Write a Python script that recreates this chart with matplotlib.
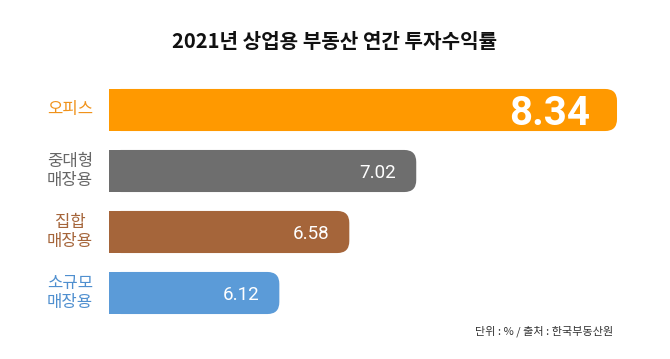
import matplotlib
matplotlib.use('Agg')
import matplotlib.pyplot as plt
from matplotlib.patches import FancyBboxPatch, Rectangle

plt.rcParams['font.family'] = ['Noto Sans CJK KR', 'DejaVu Sans']

TITLE = '2021년 상업용 부동산 연간 투자수익률'
FOOTNOTE = '단위 : % / 출처 : 한국부동산원'
CATEGORIES = ['오피스', '중대형\n매장용', '집합\n매장용', '소규모\n매장용']
VALUES = [8.34, 7.02, 6.58, 6.12]
BAR_COLORS = ['#FF9900', '#6E6E6E', '#A5653A', '#5B9BD8']
LABEL_COLORS = ['#F0921A', '#666666', '#A5653A', '#4F8FCF']
VALUE_SIZES = [29, 13.5, 13.5, 13.5]

BASE = 5.0
PX_PER_UNIT = 152.1   # horizontal pixels per value unit
PX_PER_ROW = 61.0     # vertical pixels per category row
BAR_H = 0.69
RADIUS_PX = 12


def main():
    fig = plt.figure(figsize=(6.7, 3.59), dpi=100)
    fig.patch.set_facecolor('white')
    ax = fig.add_axes([0, 0, 1, 1])
    ax.set_xlim(BASE - 109 / PX_PER_UNIT, BASE + (670 - 109) / PX_PER_UNIT)
    ax.set_ylim((359 - 110) / PX_PER_ROW, -110 / PX_PER_ROW)
    ax.axis('off')

    aspect = PX_PER_UNIT / PX_PER_ROW
    r = RADIUS_PX / PX_PER_UNIT
    for i, (v, c) in enumerate(zip(VALUES, BAR_COLORS)):
        y0 = i - BAR_H / 2
        w = v - BASE
        ax.add_patch(FancyBboxPatch((BASE, y0), w, BAR_H,
                                    boxstyle=f'round,pad=0,rounding_size={r}',
                                    mutation_aspect=aspect,
                                    facecolor=c, edgecolor='none'))
        # square left end
        ax.add_patch(Rectangle((BASE, y0), w / 2, BAR_H,
                               facecolor=c, edgecolor='none'))
        pad = -27 if i == 0 else -20
        ax.annotate(f'{v:.2f}', (v, i), xytext=(pad * 0.72, 0),
                    textcoords='offset points', ha='right', va='center_baseline',
                    color='white', fontsize=VALUE_SIZES[i],
                    fontweight='bold' if i == 0 else 'normal',
                    family=['Roboto', 'DejaVu Sans'])
        ax.annotate(CATEGORIES[i], (BASE, i), xytext=(-16 * 0.72, 0),
                    textcoords='offset points', ha='right', va='center',
                    color=LABEL_COLORS[i], fontsize=12, linespacing=1.2,
                    multialignment='center')

    fig.text(0.5, 1 - 41 / 359, TITLE, ha='center', va='center',
             fontsize=14.5, fontweight='bold', color='#111111')
    fig.text(613 / 670, 1 - 331 / 359, FOOTNOTE, ha='right', va='center',
             fontsize=8, color='#333333')

    fig.savefig('out.png', dpi=100, facecolor='white')
    plt.close(fig)


if __name__ == '__main__':
    main()
